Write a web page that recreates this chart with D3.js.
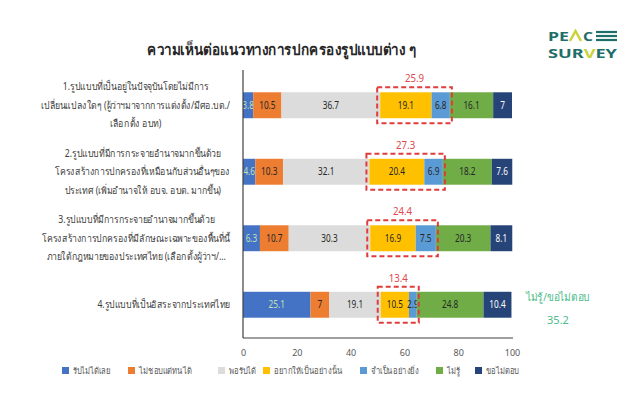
<!DOCTYPE html>
<html><head><meta charset="utf-8">
<script src="https://cdn.jsdelivr.net/npm/d3@7"></script>
<style>
html,body{margin:0;padding:0;background:#fff;}
svg{display:block;font-family:"Noto Sans","Open Sans",sans-serif;}
</style></head>
<body><svg id="c" width="640" height="409"></svg>
<script>
const categories = [
  ["1.รูปแบบที่เป็นอยู่ในปัจจุบันโดยไม่มีการ","เปลี่ยนแปลงใดๆ (ผู้ว่าฯมาจากการแต่งตั้ง/มีศอ.บต./","เลือกตั้ง อบท)"],
  ["2.รูปแบบที่มีการกระจายอำนาจมากขึ้นด้วย","โครงสร้างการปกครองที่เหมือนกับส่วนอื่นๆของ","ประเทศ (เพิ่มอำนาจให้ อบจ. อบต. มากขึ้น)"],
  ["3.รูปแบบที่มีการกระจายอำนาจมากขึ้นด้วย","โครงสร้างการปกครองที่มีลักษณะเฉพาะของพื้นที่นี้","ภายใต้กฎหมายของประเทศไทย (เลือกตั้งผู้ว่าฯ/..."],
  ["4.รูปแบบที่เป็นอิสระจากประเทศไทย"]
];
const seriesNames = ["รับไม่ได้เลย","ไม่ชอบแต่ทนได้","พอรับได้","อยากให้เป็นอย่างนั้น","จำเป็นอย่างยิ่ง","ไม่รู้","ขอไม่ตอบ"];
const rejectAll   = [3.8, 4.6, 6.3, 25.1];
const dislikeOk   = [10.5, 10.3, 10.7, 7];
const acceptable  = [36.7, 32.1, 30.3, 19.1];
const wantIt      = [19.1, 20.4, 16.9, 10.5];
const necessary   = [6.8, 6.9, 7.5, 2.9];
const dontKnow    = [16.1, 18.2, 20.3, 24.8];
const noAnswer    = [7, 7.6, 8.1, 10.4];
const supportTotals = [25.9, 27.3, 24.4, 13.4];
const xTicks = [0, 20, 40, 60, 80, 100];
const title = "ความเห็นต่อแนวทางการปกครองรูปแบบต่าง ๆ";
const noteLabel = "ไม่รู้/ขอไม่ตอบ";
const noteValue = "35.2";

const seriesValues = [rejectAll, dislikeOk, acceptable, wantIt, necessary, dontKnow, noAnswer];
const colors = ["#4472C4","#ED7D31","#DCDCDC","#FFC000","#5B9BD5","#70AD47","#264478"];
const labelColors = ["#C5E0B4","#262626","#262626","#262626","#262626","#262626","#FFFFFF"];

const svg = d3.select("#c");
function squeeze(sel, f){
  sel.each(function(){
    const w = this.getComputedTextLength();
    d3.select(this).attr("textLength", w*f).attr("lengthAdjust","spacingAndGlyphs");
  });
  return sel;
}
function condensed(parent, px, py, f, anchor){
  const g = parent.append("g").attr("transform",`translate(${px},${py}) scale(${f},1)`);
  return g.append("text").attr("x",0).attr("y",0).attr("text-anchor",anchor||"start");
}
const x = d3.scaleLinear().domain([0,100]).range([243,512]);
const y = d3.scaleBand().domain(d3.range(categories.length)).range([72,338]).paddingInner(0.61).paddingOuter(0.305);

// title
condensed(svg, 282, 55, 0.9, "middle").attr("font-size",15).attr("font-weight","bold").attr("fill","#262626").text(title);

// logo
const logo = svg.append("g");
logo.append("text").attr("x",548).attr("y",41).attr("font-size",13).attr("font-weight","bold")
  .attr("fill","#1F6E6A").attr("textLength",21).attr("lengthAdjust","spacingAndGlyphs").text("PE");
logo.append("polyline").attr("points","570,41 575.5,31 581,41").attr("fill","none").attr("stroke","#C9D43A").attr("stroke-width",2.5);
logo.append("text").attr("x",583).attr("y",41).attr("font-size",13).attr("font-weight","bold")
  .attr("fill","#1F6E6A").attr("textLength",10).attr("lengthAdjust","spacingAndGlyphs").text("C");
[32,36,40].forEach(v=>logo.append("line").attr("x1",596).attr("x2",617).attr("y1",v).attr("y2",v).attr("stroke","#1F6E6A").attr("stroke-width",2.2));
const sv = logo.append("text").attr("x",548).attr("y",58).attr("font-size",13).attr("font-weight","bold").attr("fill","#1F6E6A")
  .attr("textLength",69).attr("lengthAdjust","spacingAndGlyphs");
sv.append("tspan").text("SUR");
sv.append("tspan").attr("fill","#C9D43A").text("V");
sv.append("tspan").text("EY");

// stacked data
const rows = categories.map((c,i)=>{ const o={idx:i}; seriesValues.forEach((s,k)=>o["s"+k]=s[i]); return o;});
const stack = d3.stack().keys(seriesValues.map((s,k)=>"s"+k))(rows);

const bh = y.bandwidth();
stack.forEach((layer,k)=>{
  const g = svg.append("g");
  g.selectAll("rect").data(layer).enter().append("rect")
    .attr("x",d=>x(d[0])).attr("y",(d,i)=>y(i)).attr("width",d=>x(d[1])-x(d[0])).attr("height",bh)
    .attr("fill",colors[k]);
  squeeze(g.selectAll("text").data(layer).enter().append("text")
    .attr("x",d=>(x(d[0])+x(d[1]))/2).attr("y",(d,i)=>y(i)+bh/2+3.5)
    .attr("text-anchor","middle").attr("font-size",10).attr("fill",labelColors[k])
    .text(d=>d.data["s"+k]), 0.82);
});

// dashed boxes
stack[3].forEach((d,i)=>{
  const x0 = x(d[0])-3, x1 = x(stack[4][i][1])+2;
  svg.append("rect").attr("x",x0).attr("y",y(i)-5).attr("width",x1-x0).attr("height",bh+10)
    .attr("fill","none").attr("stroke","#E03C3C").attr("stroke-width",2).attr("stroke-dasharray","5,3");
  squeeze(svg.append("text").attr("x",(x0+x1)/2).attr("y",y(i)-10).attr("text-anchor","middle")
    .attr("font-size",11).attr("fill","#E0474C").text(supportTotals[i]), 0.88);
});

// axes lines
svg.append("line").attr("x1",243).attr("x2",243).attr("y1",70).attr("y2",338).attr("stroke","#404040").attr("stroke-width",1.2);
svg.append("line").attr("x1",243).attr("x2",513).attr("y1",338).attr("y2",338).attr("stroke","#404040").attr("stroke-width",1.2);
const ax = svg.append("g").attr("transform","translate(0,347)").call(d3.axisBottom(x).tickValues(xTicks).tickSize(0));
ax.select(".domain").remove();
ax.selectAll("text").attr("font-size",9).attr("fill","#595959").attr("font-family","'Noto Sans',sans-serif");

// category labels (block right-aligned, lines centred within block)
categories.forEach((lines,i)=>{
  const f = 0.87, right = 230, lh = 18.5;
  const n = lines.length;
  const cy = y(i)+bh/2;
  const g = svg.append("g").attr("transform",`translate(${right},0) scale(${f},1)`);
  const ts = lines.map((t,j)=>g.append("text").attr("y",cy+(j-(n-1)/2)*lh+3.5).attr("font-size",10).attr("fill","#404040").text(t));
  const w = d3.max(ts,t=>t.node().getComputedTextLength());
  ts.forEach(t=>t.attr("x",-w/2).attr("text-anchor","middle"));
});

// note
condensed(svg, 558, 301, 0.92, "middle").attr("font-size",11).attr("fill","#4DBB8A").text(noteLabel);
svg.append("text").attr("x",558).attr("y",324).attr("text-anchor","middle").attr("font-size",11).attr("fill","#4DBB8A").text(noteValue);

// legend
const legX = [62,128,218,263,360,436,475];
seriesNames.forEach((n,k)=>{
  svg.append("rect").attr("x",legX[k]).attr("y",367).attr("width",7).attr("height",7).attr("fill",colors[k]);
  condensed(svg, legX[k]+11, 374, 0.85).attr("font-size",9).attr("fill","#595959").text(n);
});
</script></body></html>
